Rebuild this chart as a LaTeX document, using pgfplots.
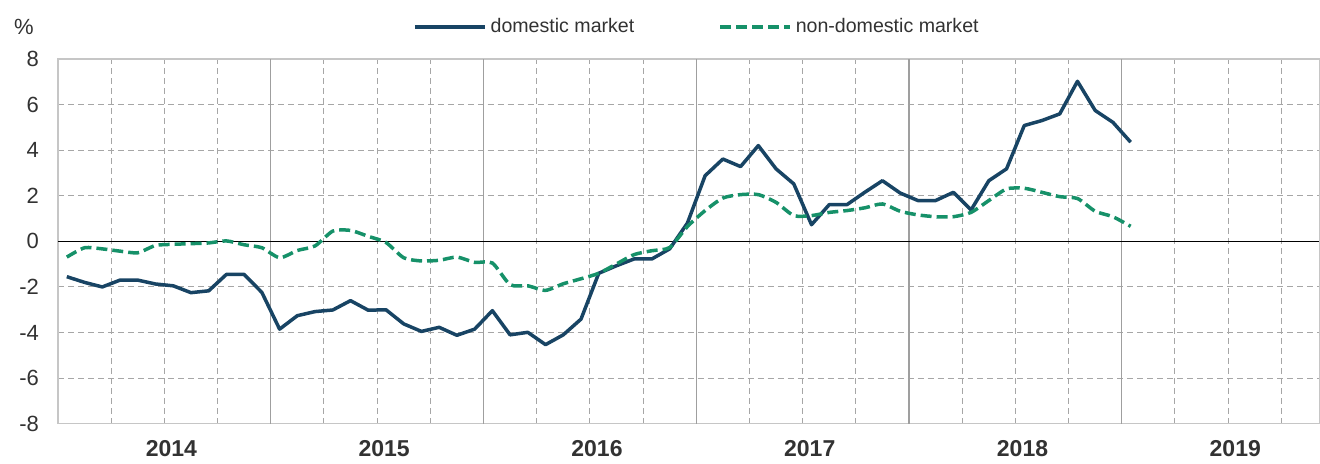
\documentclass[border=0pt]{standalone}
\usepackage{pgfplots}
\pgfplotsset{compat=1.18}
\usepackage{fontspec}
\setmainfont{Liberation Sans}
\definecolor{dom}{RGB}{24,68,100}
\definecolor{nondom}{RGB}{22,145,105}
\definecolor{txt}{RGB}{50,50,50}
\begin{document}
\begin{tikzpicture}
\begin{axis}[
  scale only axis,
  width=631pt, height=182.5pt,
  xmin=0, xmax=71.14, ymin=-8, ymax=8,
  axis line style={gray!45, line width=0.6pt},
  ytick={-8,-6,...,8},
  ymajorgrids,
  major grid style={densely dashed, gray!70, line width=0.5pt},
  minor grid style={densely dashed, gray!70, line width=0.5pt},
  xtick={6.4,18.4,30.4,42.4,54.4,66.4},
  xticklabels={2014,2015,2016,2017,2018,2019},
  minor xtick={3,6,9,15,18,21,27,30,33,39,42,45,51,54,57,63,66,69},
  xminorgrids,
  extra x ticks={12,24,36,48,60},
  extra x tick labels={},
  extra x tick style={grid=major, major grid style={solid, gray!75, line width=0.6pt}},
  major tick length=0pt, minor tick length=0pt,
  tick style={draw=none},
  xticklabel style={font=\fontsize{11.5}{13}\selectfont\bfseries, text=txt, yshift=-5pt},
  yticklabel style={font=\fontsize{11}{13}\selectfont, text=txt, xshift=-6pt},
  /pgf/number format/assume math mode=true,
  legend columns=2,
  legend style={draw=none, fill=none, at={(0.2813,1.088)}, anchor=west, inner sep=0pt,
    font=\fontsize{9.8}{12}\selectfont, text=txt,
    nodes={inner xsep=2pt},
    /tikz/every even column/.append style={column sep=40pt}},
  legend cell align=left,
  legend image code/.code={\draw[#1] (0pt,0pt) -- (35pt,0pt);},
  clip=false,
]
\draw[black, line width=0.7pt] (axis cs:0,0) -- (axis cs:71.14,0);
\addplot[dom, line width=1.75pt, line join=round] coordinates {
(0.5,-1.55) (1.5,-1.8) (2.5,-2.0) (3.5,-1.7) (4.5,-1.7) (5.5,-1.87) (6.5,-1.95) (7.5,-2.25) (8.5,-2.17) (9.5,-1.45)
(10.5,-1.45) (11.5,-2.24) (12.5,-3.85) (13.5,-3.26) (14.5,-3.08) (15.5,-3.01) (16.5,-2.6) (17.5,-3.02) (18.5,-3.0) (19.5,-3.62)
(20.5,-3.95) (21.5,-3.77) (22.5,-4.12) (23.5,-3.85) (24.5,-3.04) (25.5,-4.1) (26.5,-3.99) (27.5,-4.53) (28.5,-4.1) (29.5,-3.41)
(30.5,-1.4) (31.5,-1.07) (32.5,-0.77) (33.5,-0.77) (34.5,-0.33) (35.5,0.8) (36.5,2.88) (37.5,3.61) (38.5,3.28) (39.5,4.2)
(40.5,3.18) (41.5,2.52) (42.5,0.73) (43.5,1.61) (44.5,1.61) (45.5,2.15) (46.5,2.66) (47.5,2.12) (48.5,1.79) (49.5,1.79)
(50.5,2.15) (51.5,1.38) (52.5,2.66) (53.5,3.18) (54.5,5.08) (55.5,5.3) (56.5,5.59) (57.5,7.02) (58.5,5.74) (59.5,5.22)
(60.5,4.35)
};
\addlegendentry{domestic market}
\addplot[nondom, line width=1.75pt, dash pattern=on 5.5pt off 2.5pt, smooth, tension=0.4] coordinates {
(0.5,-0.69) (1.5,-0.28) (2.5,-0.33) (3.5,-0.43) (4.5,-0.5) (5.5,-0.18) (6.5,-0.13) (7.5,-0.1) (8.5,-0.07) (9.5,0.02)
(10.5,-0.15) (11.5,-0.28) (12.5,-0.72) (13.5,-0.4) (14.5,-0.2) (15.5,0.45) (16.5,0.48) (17.5,0.22) (18.5,-0.05) (19.5,-0.72)
(20.5,-0.86) (21.5,-0.83) (22.5,-0.69) (23.5,-0.92) (24.5,-0.95) (25.5,-1.9) (26.5,-1.95) (27.5,-2.15) (28.5,-1.86) (29.5,-1.64)
(30.5,-1.4) (31.5,-0.99) (32.5,-0.58) (33.5,-0.41) (34.5,-0.27) (35.5,0.65) (36.5,1.35) (37.5,1.9) (38.5,2.05) (39.5,2.05)
(40.5,1.71) (41.5,1.13) (42.5,1.13) (43.5,1.27) (44.5,1.35) (45.5,1.47) (46.5,1.64) (47.5,1.32) (48.5,1.16) (49.5,1.08)
(50.5,1.08) (51.5,1.27) (52.5,1.79) (53.5,2.3) (54.5,2.33) (55.5,2.15) (56.5,1.96) (57.5,1.88) (58.5,1.32) (59.5,1.08)
(60.5,0.66)
};
\addlegendentry{non-domestic market}
\node[font=\fontsize{11}{13}\selectfont, text=txt] at (rel axis cs:-0.027,1.088) {\%};
\path (rel axis cs:-0.04596,1.16164) rectangle (rel axis cs:1,-0.09863);
\end{axis}
\end{tikzpicture}
\end{document}
